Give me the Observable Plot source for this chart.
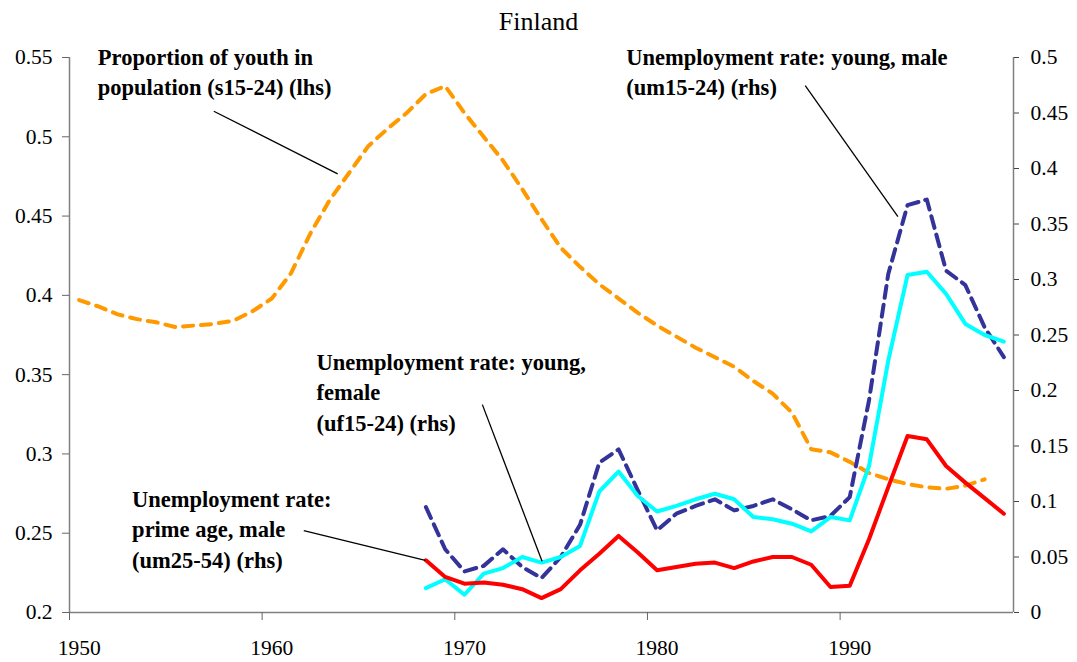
<!DOCTYPE html>
<html><head><meta charset="utf-8">
<script src="https://cdn.jsdelivr.net/npm/d3@7"></script>
<script src="https://cdn.jsdelivr.net/npm/@observablehq/plot@0.6"></script>
<style>
body{margin:0;background:#fff;font-family:"Liberation Serif","Times New Roman",serif;}
#title{width:1077px;height:40px;line-height:44px;text-align:center;font-size:26px;color:#000;}
#chart svg{display:block;}
#chart svg, #chart svg text{font-family:"Liberation Serif","Times New Roman",serif !important;}
</style></head><body>
<div id="title">Finland</div>
<div id="chart"></div>
<script>
// Proportion of youth in population (lhs), 1950-1997
const popYears = d3.range(1950, 1998);
const s1524 = [0.397,0.393,0.388,0.385,0.383,0.380,0.381,0.382,0.384,0.390,
               0.398,0.414,0.439,0.460,0.477,0.494,0.505,0.515,0.527,0.532,
               0.515,0.500,0.485,0.467,0.448,0.430,0.418,0.407,0.398,0.389,
               0.381,0.374,0.367,0.361,0.355,0.346,0.338,0.326,0.303,0.301,
               0.295,0.288,0.284,0.281,0.279,0.278,0.280,0.284];
// Unemployment rates (rhs), 1968-1998
const unYears = d3.range(1968, 1999);
const um1524 = [0.095,0.057,0.037,0.042,0.057,0.041,0.031,0.050,0.079,0.135,
                0.147,0.110,0.074,0.089,0.096,0.102,0.092,0.096,0.102,0.093,
                0.083,0.087,0.104,0.191,0.305,0.367,0.372,0.308,0.295,0.257,0.230];
const uf1524 = [0.022,0.030,0.016,0.035,0.040,0.050,0.045,0.050,0.060,0.109,
                0.127,0.105,0.091,0.096,0.102,0.107,0.102,0.086,0.084,0.080,
                0.073,0.086,0.083,0.132,0.227,0.304,0.307,0.287,0.260,0.250,0.244];
const um2554 = [0.047,0.032,0.026,0.027,0.025,0.021,0.013,0.021,0.038,0.053,
                0.069,0.054,0.038,0.041,0.044,0.045,0.040,0.046,0.050,0.050,
                0.043,0.023,0.024,0.066,0.113,0.159,0.156,0.132,0.117,0.103,0.089];
// Axis ticks
const xTicks = [1950, 1960, 1970, 1980, 1990];
const lhsTicks = [0.2,0.25,0.3,0.35,0.4,0.45,0.5,0.55];
const lhsLabels = ["0.2","0.25","0.3","0.35","0.4","0.45","0.5","0.55"];
const rhsTicks = [0,0.05,0.1,0.15,0.2,0.25,0.3,0.35,0.4,0.45,0.5];
const rhsLabels = ["0","0.05","0.1","0.15","0.2","0.25","0.3","0.35","0.4","0.45","0.5"];
// Annotations (in year / lhs units)
const annotText = ["Proportion of youth in\npopulation (s15-24) (lhs)",
                   "Unemployment rate: young, male\n(um15-24) (rhs)",
                   "Unemployment rate: young,\nfemale\n(uf15-24) (rhs)",
                   "Unemployment rate:\nprime age, male\n(um25-54) (rhs)"];
const annotX = [1951.47, 1978.9, 1962.82, 1953.25];
const annotY = [0.5591, 0.5591, 0.3668, 0.2805];
const leadX1 = [1957.49, 1988.19, 1971.43, 1962.16];
const leadY1 = [0.5161, 0.5323, 0.3311, 0.2517];
const leadX2 = [1963.92, 1993.00, 1974.53, 1968.47];
const leadY2 = [0.4766, 0.4497, 0.2323, 0.2328];

const toL = v => 0.2 + 0.7 * v; // rhs -> lhs units
const mid = yr => yr + 0.5;       // category centre

const annots = annotText.map((t, i) => ({t, x: annotX[i], y: annotY[i]}));
const leads = leadX1.map((x1, i) => ({x1, y1: leadY1[i], x2: leadX2[i], y2: leadY2[i]}));

const chart = Plot.plot({
  width: 1077, height: 622,
  marginLeft: 69, marginRight: 64, marginTop: 17, marginBottom: 50,
  style: {fontFamily: "'Liberation Serif', 'Times New Roman', serif", fontSize: "21.5px", color: "#000", background: "#fff"},
  x: {domain: [1950, 1999], type: "linear"},
  y: {domain: [0.2, 0.55]},
  marks: [
    Plot.ruleX([1950], {stroke: "#808080", strokeWidth: 1.5}),
    Plot.ruleX([1999], {stroke: "#808080", strokeWidth: 1.5}),
    Plot.ruleY([0.2], {stroke: "#808080", strokeWidth: 1.5}),
    Plot.axisY({ticks: lhsTicks, tickFormat: (d, i) => lhsLabels[i], tickSize: 7, tickPadding: 10, label: null, stroke: "#666", fontFamily: "Liberation Serif"}),
    Plot.axisY({anchor: "right", ticks: rhsTicks.map(toL), tickFormat: (d, i) => rhsLabels[i], tickSize: 5, tickPadding: 12, label: null, stroke: "#444", fontFamily: "Liberation Serif"}),
    Plot.axisX({ticks: xTicks, tickFormat: () => "", tickSize: 8, label: null, stroke: "#666"}),
    Plot.axisX({ticks: xTicks.map(mid), tickFormat: (d, i) => String(xTicks[i]), tickSize: 0, tickPadding: 27, label: null, fontFamily: "Liberation Serif"}),
    Plot.line(popYears, {x: mid, y: (d, i) => s1524[i], stroke: "#FF9900", strokeWidth: 4, strokeDasharray: "10,8"}),
    Plot.line(unYears, {x: mid, y: (d, i) => toL(um1524[i]), stroke: "#333399", strokeWidth: 4, strokeDasharray: "12,7"}),
    Plot.line(unYears, {x: mid, y: (d, i) => toL(uf1524[i]), stroke: "#00FFFF", strokeWidth: 4}),
    Plot.line(unYears, {x: mid, y: (d, i) => toL(um2554[i]), stroke: "#FF0000", strokeWidth: 4}),
    Plot.link(leads, {x1: "x1", y1: "y1", x2: "x2", y2: "y2", stroke: "#000", strokeWidth: 1.3}),
    Plot.text(annots, {x: "x", y: "y", text: "t", textAnchor: "start", lineAnchor: "top", lineHeight: 1.36, fontSize: 22.5, fontWeight: "bold", fill: "#000", fontFamily: "Liberation Serif"})
  ]
});
document.getElementById("chart").appendChild(chart);
</script>
</body></html>
